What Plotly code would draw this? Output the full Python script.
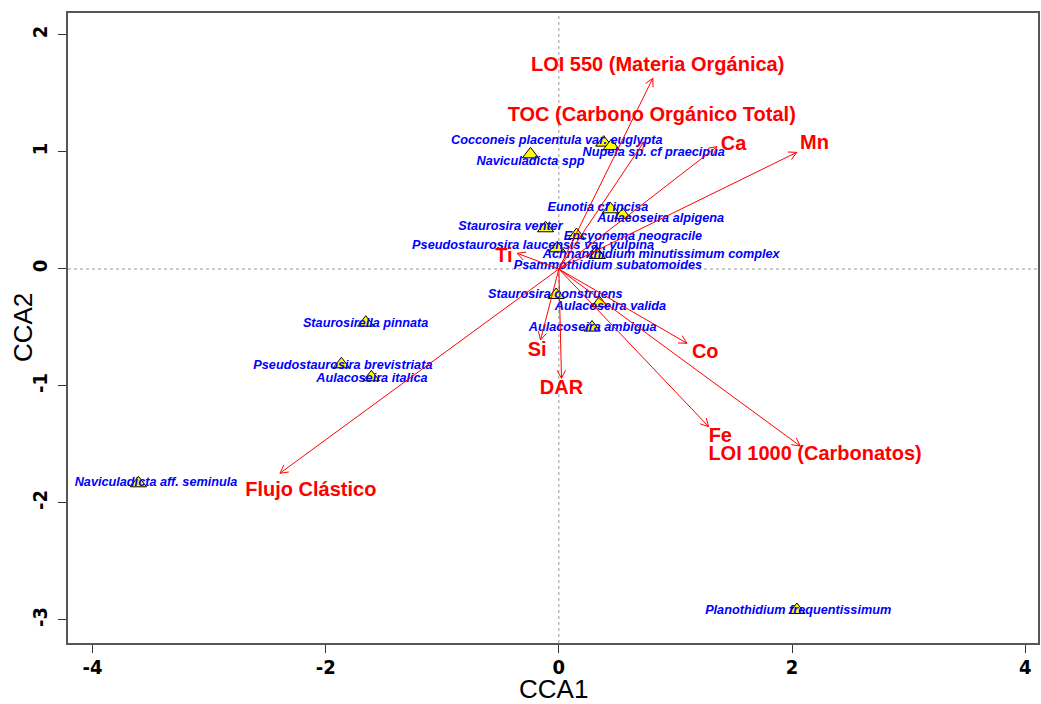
import numpy as np
import plotly.graph_objects as go

# ---------------- data (CCA scores) ----------------
species = [
    "Cocconeis placentula var. euglypta", "Nupela sp. cf praecipua", "Naviculadicta spp",
    "Eunotia cf incisa", "Aulacoseira alpigena", "Staurosira venter",
    "Encyonema neogracile", "Pseudostaurosira laucensis var. vulpina",
    "Achnanthidium minutissimum complex", "Psammothidium subatomoides",
    "Staurosira construens", "Aulacoseira valida", "Aulacoseira ambigua",
    "Staurosirella pinnata", "Pseudostaurosira brevistriata", "Aulacoseira italica",
    "Naviculadicta aff. seminula", "Planothidium frequentissimum",
]
sp_cca1 = [0.385, 0.45, -0.243, 0.443, 0.548, -0.114, 0.152, -0.014, 0.32, 0.33,
           -0.023, 0.349, 0.285, -1.656, -1.865, -1.608, -3.606, 2.042]
sp_cca2 = [1.08, 1.05, 0.98, 0.51, 0.462, 0.348, 0.29, 0.177, 0.14, 0.12,
           -0.222, -0.293, -0.501, -0.459, -0.815, -0.926, -1.832, -2.915]
# label anchor positions (CCA units)
sp_lab1 = [-0.017, 0.814, -0.243, 0.336, 0.874, -0.415, 0.636, -0.221, 0.878, 0.421,
           -0.03, 0.443, 0.29, -1.657, -1.852, -1.603, -3.455, 2.053]
sp_lab2 = [1.097, 0.989, 0.912, 0.519, 0.43, 0.362, 0.276, 0.197, 0.12, 0.028,
           -0.222, -0.322, -0.507, -0.473, -0.829, -0.94, -1.832, -2.923]

env = ["LOI 550 (Materia Orgánica)", "TOC (Carbono Orgánico Total)", "Ca", "Mn", "Ti",
       "Si", "DAR", "Co", "Fe", "LOI 1000 (Carbonatos)", "Flujo Clástico"]
env_cca1 = [0.806, 0.728, 1.356, 2.041, -0.357, -0.157, 0.023, 1.099, 1.285, 2.07, -2.392]
env_cca2 = [1.63, 1.085, 1.045, 0.997, 0.134, -0.607, -0.934, -0.635, -1.348, -1.513, -1.746]
env_lab1 = [0.848, 0.797, 1.499, 2.193, -0.471, -0.186, 0.023, 1.256, 1.385, 2.198, -2.127]
env_lab2 = [1.735, 1.308, 1.06, 1.068, 0.105, -0.698, -1.029, -0.72, -1.438, -1.59, -1.895]

x_ticks = [-4, -2, 0, 2, 4]
y_ticks = [-3, -2, -1, 0, 1, 2]

# ---------------- layout geometry ----------------
W, H = 1041, 704
ML, MR, MT, MB = 68, 1, 13, 61
XR = [-4.21, 4.11]
YR = [-3.197, 2.188]
px_x = (W - ML - MR) / (XR[1] - XR[0])
px_y = (H - MT - MB) / (YR[1] - YR[0])

FONT = "Liberation Sans, Arial, sans-serif"
NARROW = "Liberation Sans Narrow, Arial Narrow, DejaVu Sans Condensed, sans-serif"

# arrow shafts and open heads (computed in pixel space, converted back)
head_len = 9.0
head_ang = np.deg2rad(28)
ax_x, ax_y = [], []
for x1, y1 in zip(env_cca1, env_cca2):
    ax_x += [0, x1, None]
    ax_y += [0, y1, None]
    dx, dy = x1 * px_x, y1 * px_y
    ang = np.arctan2(dy, dx)
    for s in (1, -1):
        a = ang + np.pi + s * head_ang
        hx = x1 + head_len * np.cos(a) / px_x
        hy = y1 + head_len * np.sin(a) / px_y
        ax_x += [x1, hx, None]
        ax_y += [y1, hy, None]

fig = go.Figure()

fig.add_trace(go.Scatter(
    x=sp_cca1, y=sp_cca2, mode="markers",
    marker=dict(symbol="triangle-up", size=14, color="#FFFF00",
                line=dict(color="black", width=1)),
    hoverinfo="skip", showlegend=False))

fig.add_trace(go.Scatter(
    x=sp_lab1, y=sp_lab2, mode="text", text=species, textposition="middle center",
    textfont=dict(family=FONT, size=12.7, color="#0000FF", weight="bold", style="italic"),
    hoverinfo="skip", showlegend=False, cliponaxis=False))

fig.add_trace(go.Scatter(
    x=ax_x, y=ax_y, mode="lines", line=dict(color="#FF0000", width=1),
    hoverinfo="skip", showlegend=False))

fig.add_trace(go.Scatter(
    x=env_lab1, y=env_lab2, mode="text", text=env, textposition="middle center",
    textfont=dict(family=FONT, size=20, color="#FF0000", weight="bold"),
    hoverinfo="skip", showlegend=False, cliponaxis=False))

# dotted zero lines
fig.add_shape(type="line", xref="x", yref="paper", x0=0, x1=0, y0=0, y1=1,
              line=dict(color="#999999", width=1, dash="dot"), layer="below")
fig.add_shape(type="line", xref="paper", yref="y", x0=0, x1=1, y0=0, y1=0,
              line=dict(color="#999999", width=1, dash="dot"), layer="below")

axis_common = dict(showgrid=False, zeroline=False, showline=True, mirror=True,
                   linecolor="#555555", linewidth=1.5, ticks="outside", ticklen=8,
                   tickcolor="#333333", tickwidth=1,
                   tickfont=dict(family=NARROW, size=20, color="black", weight="bold"))

fig.update_layout(
    width=W, height=H, margin=dict(l=ML, r=MR, t=MT, b=MB),
    plot_bgcolor="white", paper_bgcolor="white",
    xaxis=dict(range=XR, tickvals=x_ticks, ticktext=[str(v) for v in x_ticks],
               ticklabelstandoff=-3, **axis_common),
    yaxis=dict(range=YR, tickvals=y_ticks, ticktext=[str(v) for v in y_ticks],
               tickangle=-90, ticklabelstandoff=3, **axis_common),
    annotations=[
        dict(text="CCA1", xref="paper", yref="paper", x=0.5, y=-(689 - (H - MB)) / (H - MT - MB),
             xanchor="center", yanchor="middle", showarrow=False,
             font=dict(family=FONT, size=26, color="black")),
        dict(text="CCA2", xref="paper", yref="paper", x=(23 - ML) / (W - ML - MR), y=0.5,
             xanchor="center", yanchor="middle", textangle=-90, showarrow=False,
             font=dict(family=FONT, size=26, color="black")),
    ],
)

fig.write_html("out.html")
